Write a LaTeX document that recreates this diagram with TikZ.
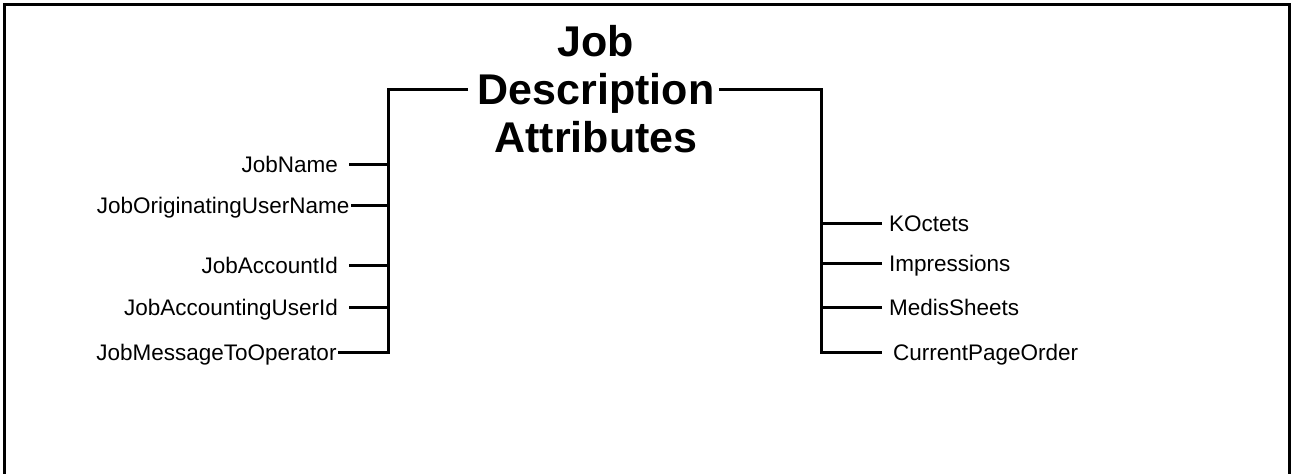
\documentclass[tikz,border=0pt]{standalone}
\usepackage{fontspec}
\setmainfont{Liberation Sans}
\begin{document}
\begin{tikzpicture}[x=0.5pt, y=-0.5pt, line width=1.5pt,
  attr/.style={inner sep=0pt, text height=8pt, text depth=0pt, font=\fontsize{11.25}{13}\selectfont}]
\useasboundingbox (0,0) rectangle (1291,473);
\draw[](4,480) -- (4,4) -- (1289,4) -- (1289,480);
\node[align=center, inner sep=0pt, font=\fontsize{21.5}{24}\selectfont\bfseries] (title) at (596,89){Job\\Description\\Attributes};
\coordinate (ltop) at (388,89);
\coordinate (lbot) at (388,352);
\coordinate (rtop) at (821,89);
\coordinate (rbot) at (821,352);
\node[attr, anchor=east, outer xsep=5.5pt] (jname) at (349,164){JobName};
\node[attr, anchor=east] (jorig) at (351,205){JobOriginatingUserName};
\node[attr, anchor=east, outer xsep=5.5pt] (jacct) at (349,265){JobAccountId};
\node[attr, anchor=east, outer xsep=5.5pt] (jauser) at (349,307){JobAccountingUserId};
\node[attr, anchor=east] (jmsg) at (338,352){JobMessageToOperator};
\node[attr, anchor=west, outer xsep=3.5pt] (koct) at (882,223){KOctets};
\node[attr, anchor=west, outer xsep=3.5pt] (impr) at (882,263){Impressions};
\node[attr, anchor=west, outer xsep=3.5pt] (msheet) at (882,307){MedisSheets};
\node[attr, anchor=west, outer xsep=5.5pt] (cpage) at (882,352){CurrentPageOrder};
\draw[]([xshift=-4pt]title.west |- ltop) -- (ltop) -- (lbot) -- (jmsg.east);
\draw[](jname.east) -- (jname.east -| ltop);
\draw[](jorig.east) -- (jorig.east -| ltop);
\draw[](jacct.east) -- (jacct.east -| ltop);
\draw[](jauser.east) -- (jauser.east -| ltop);
\draw[]([xshift=1.5pt]title.east |- rtop) -- (rtop) -- (rbot) -- (cpage.west);
\draw[](koct.west) -- (koct.west -| rtop);
\draw[](impr.west) -- (impr.west -| rtop);
\draw[](msheet.west) -- (msheet.west -| rtop);

\end{tikzpicture}
\end{document}
